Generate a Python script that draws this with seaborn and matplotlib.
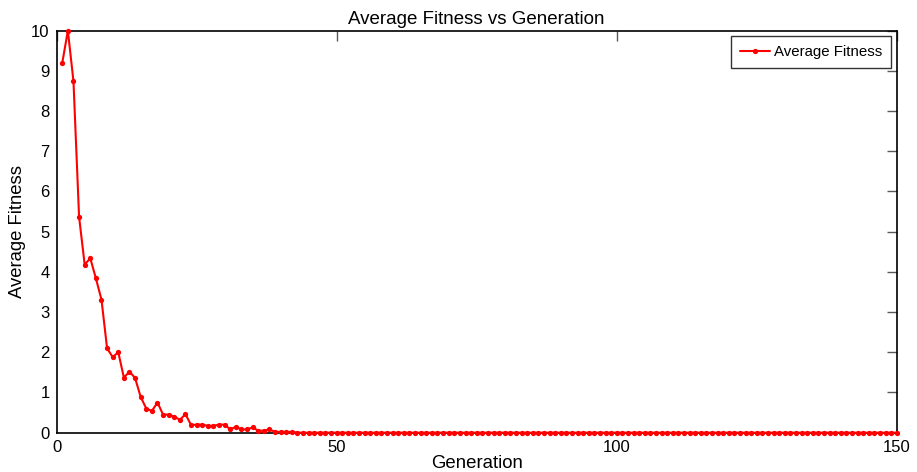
import matplotlib
matplotlib.use("Agg")
import matplotlib.pyplot as plt
import seaborn as sns
import pandas as pd

# Average fitness per generation (generations 1..150)
generations = list(range(1, 151))
avg_fitness = [
    9.20, 10.00, 8.74, 5.37, 4.18, 4.34, 3.84, 3.31, 2.10, 1.88,
    2.00, 1.37, 1.52, 1.36, 0.89, 0.60, 0.54, 0.75, 0.45, 0.45,
    0.40, 0.32, 0.46, 0.19, 0.20, 0.20, 0.17, 0.17, 0.20, 0.20,
    0.08, 0.15, 0.08, 0.08, 0.13, 0.05, 0.05, 0.08, 0.02, 0.02,
    0.02, 0.02, 0.00, 0.00, 0.00, 0.00, 0.00, 0.00, 0.00, 0.00,
    0.00, 0.00, 0.00, 0.00, 0.00, 0.00, 0.00, 0.00, 0.00, 0.00,
    0.00, 0.00, 0.00, 0.00, 0.00, 0.00, 0.00, 0.00, 0.00, 0.00,
    0.00, 0.00, 0.00, 0.00, 0.00, 0.00, 0.00, 0.00, 0.00, 0.00,
    0.00, 0.00, 0.00, 0.00, 0.00, 0.00, 0.00, 0.00, 0.00, 0.00,
    0.00, 0.00, 0.00, 0.00, 0.00, 0.00, 0.00, 0.00, 0.00, 0.00,
    0.00, 0.00, 0.00, 0.00, 0.00, 0.00, 0.00, 0.00, 0.00, 0.00,
    0.00, 0.00, 0.00, 0.00, 0.00, 0.00, 0.00, 0.00, 0.00, 0.00,
    0.00, 0.00, 0.00, 0.00, 0.00, 0.00, 0.00, 0.00, 0.00, 0.00,
    0.00, 0.00, 0.00, 0.00, 0.00, 0.00, 0.00, 0.00, 0.00, 0.00,
    0.00, 0.00, 0.00, 0.00, 0.00, 0.00, 0.00, 0.00, 0.00, 0.00,
]
x_ticks = [0, 50, 100, 150]
y_ticks = list(range(0, 11))
series_name = "Average Fitness"

df = pd.DataFrame({"Generation": generations, series_name: avg_fitness})

sns.set_style("white")
plt.rcParams["font.family"] = ["Liberation Sans", "DejaVu Sans"]
plt.rcParams["text.color"] = "black"
plt.rcParams["axes.labelcolor"] = "black"

fig = plt.figure(figsize=(9.17, 4.72), dpi=100)
ax = fig.add_axes([0.0618, 0.0833, 0.9161, 0.8517])

sns.lineplot(data=df, x="Generation", y=series_name, ax=ax,
             color="#ff0000", linewidth=1.5, marker="o", markersize=3.8,
             markeredgewidth=0, label=series_name)
# keep the curve drawn over the frame so points at zero stay visible
for line in ax.lines:
    line.set_clip_on(False)
    line.set_zorder(3)

ax.set_xlim(0, 150)
ax.set_ylim(0, 10)
ax.set_xticks(x_ticks)
ax.set_yticks(y_ticks)

for side in ["left", "right", "top", "bottom"]:
    ax.spines[side].set_visible(True)
    ax.spines[side].set_color("black")
    ax.spines[side].set_linewidth(1.2)

ax.tick_params(direction="in", length=7, width=1, color="0.35",
               top=True, right=True, labelsize=12, labelcolor="black",
               pad=5)

ax.set_title("Average Fitness vs Generation", fontsize=13.5, pad=5)
ax.set_xlabel("Generation", fontsize=13.4, labelpad=0)
ax.set_ylabel("Average Fitness", fontsize=13.3, labelpad=4)

leg = ax.legend(loc="upper right", fontsize=10.8, frameon=True, fancybox=False,
                edgecolor="black", handlelength=2.0, handletextpad=0.3,
                borderpad=0.6, borderaxespad=0.35)
leg.get_frame().set_linewidth(1.0)
for txt in leg.get_texts():
    txt.set_color("black")

fig.savefig("out.png", dpi=100)
